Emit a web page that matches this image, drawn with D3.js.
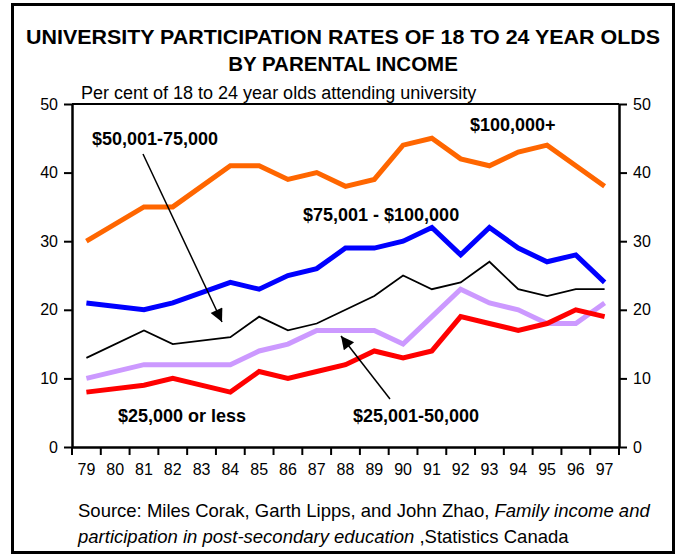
<!DOCTYPE html>
<html>
<head>
<meta charset="utf-8">
<script src="https://cdn.jsdelivr.net/npm/d3@7"></script>
<style>
  body { margin: 0; background: #fff; }
  text { font-family: "Liberation Sans", Arial, sans-serif; }
  .lbl { font-weight: bold; font-size: 18px; }
</style>
</head>
<body>
<div id="viz"></div>
<script>
// years 80 and 83 have no data, lines run straight across them
var years = ["79","80","81","82","83","84","85","86","87","88","89","90","91","92","93","94","95","96","97"];
var over100k   = [30,null,35,35,null,41,41,39,40,38,39,44,45,42,41,43,44,41,38];
var from75to100 = [21,null,20,21,null,24,23,25,26,29,29,30,32,28,32,29,27,28,24];
var from50to75 = [13,null,17,15,null,16,19,17,18,20,22,25,23,24,27,23,22,23,23];
var from25to50 = [10,null,12,12,null,12,14,15,17,17,17,15,19,23,21,20,18,18,21];
var under25k   = [8,null,9,10,null,8,11,10,11,12,14,13,14,19,18,17,18,20,19];
var yTicks = [0,10,20,30,40,50];

var series = [
  {name: "$100,000+", values: over100k, color: "#ff6600", width: 5},
  {name: "$75,001 - $100,000", values: from75to100, color: "#0000ff", width: 5},
  {name: "$50,001-75,000", values: from50to75, color: "#000000", width: 1.8},
  {name: "$25,001-50,000", values: from25to50, color: "#cc99ff", width: 5},
  {name: "$25,000 or less", values: under25k, color: "#ff0000", width: 5}
];

var width = 678, height = 556;
var margin = {top: 104, right: 59, bottom: 109, left: 72};

var svg = d3.select("#viz").append("svg")
    .attr("width", width)
    .attr("height", height);

// outer frame
svg.append("rect")
    .attr("x", 12.5).attr("y", 4.5)
    .attr("width", 661).attr("height", 548)
    .attr("fill", "none").attr("stroke", "#000").attr("stroke-width", 3);

svg.append("text")
    .attr("x", 26).attr("y", 44)
    .attr("textLength", 634).attr("lengthAdjust", "spacingAndGlyphs")
    .style("font-weight", "bold").style("font-size", "20.5px")
    .text("UNIVERSITY PARTICIPATION RATES OF 18 TO 24 YEAR OLDS");
svg.append("text")
    .attr("x", 343).attr("y", 71)
    .attr("text-anchor", "middle")
    .style("font-weight", "bold").style("font-size", "20.5px")
    .text("BY PARENTAL INCOME");

var x = d3.scaleBand()
    .domain(years)
    .range([margin.left, width - margin.right]);

var y = d3.scaleLinear()
    .domain([0, 50])
    .range([height - margin.bottom, margin.top]);

svg.append("text")
    .attr("x", 81).attr("y", 99)
    .style("font-size", "18px")
    .text("Per cent of 18 to 24 year olds attending university");

// plot box top edge
svg.append("line")
    .attr("x1", margin.left).attr("x2", width - margin.right)
    .attr("y1", y(50)).attr("y2", y(50))
    .attr("stroke", "#000").attr("stroke-width", 2);

var yLeft = svg.append("g")
    .attr("transform", "translate(" + margin.left + ",0)")
    .call(d3.axisLeft(y).tickValues(yTicks).tickSize(8).tickSizeOuter(0).tickPadding(6));
var yRight = svg.append("g")
    .attr("transform", "translate(" + (width - margin.right) + ",0)")
    .call(d3.axisRight(y).tickValues(yTicks).tickSize(8).tickSizeOuter(0).tickPadding(6));

var xAxis = svg.append("g")
    .attr("transform", "translate(0," + y(0) + ")")
    .call(d3.axisBottom(x).tickSize(0).tickPadding(17));

// x ticks sit between the categories
xAxis.selectAll(".sep")
    .data(years.concat([null]))
    .enter().append("line")
    .attr("class", "sep")
    .attr("x1", function(d, i) { return margin.left + i * x.step(); })
    .attr("x2", function(d, i) { return margin.left + i * x.step(); })
    .attr("y1", 0).attr("y2", 8)
    .attr("stroke", "#000").attr("stroke-width", 2);

[yLeft, yRight, xAxis].forEach(function(g) {
  g.selectAll(".domain").attr("stroke-width", 2.5);
  g.selectAll(".tick line").attr("stroke-width", 2);
  g.selectAll("text").style("font-size", "16px").attr("font-family", null);
});

var line = d3.line()
    .x(function(d) { return x(d.year) + x.bandwidth() / 2; })
    .y(function(d) { return y(d.v); });

svg.selectAll("path.series")
    .data(series)
    .enter().append("path")
    .attr("class", "series")
    .attr("fill", "none")
    .attr("stroke", function(d) { return d.color; })
    .attr("stroke-width", function(d) { return d.width; })
    .attr("stroke-linejoin", "miter")
    .attr("d", function(s) {
      var pts = years.map(function(yr, i) { return {year: yr, v: s.values[i]}; })
        .filter(function(p) { return p.v !== null; });
      return line(pts);
    });

// arrows
svg.append("defs").append("marker")
    .attr("id", "arrow")
    .attr("viewBox", "0 0 10 10")
    .attr("refX", 10).attr("refY", 5)
    .attr("markerWidth", 18).attr("markerHeight", 13)
    .attr("markerUnits", "userSpaceOnUse")
    .attr("orient", "auto")
    .append("path").attr("d", "M0,0L10,5L0,10Z").attr("fill", "#000");

function arrow(x1, y1, x2, y2) {
  svg.append("line")
      .attr("x1", x1).attr("y1", y1).attr("x2", x2).attr("y2", y2)
      .attr("stroke", "#000").attr("stroke-width", 1.5)
      .attr("marker-end", "url(#arrow)");
}
arrow(143, 154, 222, 322);
arrow(390, 399, 341, 336);

var labels = [
  {text: "$50,001-75,000", x: 92, y: 145},
  {text: "$100,000+", x: 470, y: 131},
  {text: "$75,001 - $100,000", x: 303, y: 221},
  {text: "$25,000 or less", x: 118, y: 422},
  {text: "$25,001-50,000", x: 353, y: 422}
];
svg.selectAll("text.lbl")
    .data(labels)
    .enter().append("text")
    .attr("class", "lbl")
    .attr("x", function(d) { return d.x; })
    .attr("y", function(d) { return d.y; })
    .text(function(d) { return d.text; });

var src1 = svg.append("text").attr("x", 78).attr("y", 517).style("font-size", "18.5px");
src1.append("tspan").text("Source: Miles Corak, Garth Lipps, and John Zhao, ");
src1.append("tspan").style("font-style", "italic").text("Family income and");
var src2 = svg.append("text").attr("x", 78).attr("y", 543).style("font-size", "18.5px");
src2.append("tspan").style("font-style", "italic").text("participation in post-secondary education");
src2.append("tspan").text(" ,Statistics Canada");
</script>
</body>
</html>
